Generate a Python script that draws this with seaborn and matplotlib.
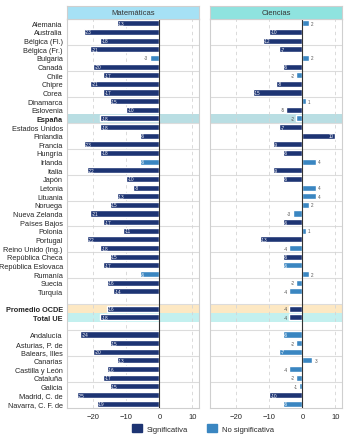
import seaborn as sns
import matplotlib.pyplot as plt
import matplotlib.patches as mpatches
import pandas as pd

# Row labels (blank rows separate the groups)
paises = ['Alemania', 'Australia', 'Bélgica (Fl.)', 'Bélgica (Fr.)', 'Bulgaria', 'Canadá',
          'Chile', 'Chipre', 'Corea', 'Dinamarca', 'Eslovenia', 'España', 'Estados Unidos',
          'Finlandia', 'Francia', 'Hungría', 'Irlanda', 'Italia', 'Japón', 'Letonia',
          'Lituania', 'Noruega', 'Nueva Zelanda', 'Países Bajos', 'Polonia', 'Portugal',
          'Reino Unido (Ing.)', 'República Checa', 'República Eslovaca', 'Rumanía',
          'Suecia', 'Turquía']
medias = ['Promedio OCDE', 'Total UE']
ccaa = ['Andalucía', 'Asturias, P. de', 'Balears, Illes', 'Canarias', 'Castilla y León',
        'Cataluña', 'Galicia', 'Madrid, C. de', 'Navarra, C. F. de']

# Differences (points)
mat = [-13, -23, -18, -21, -3, -20, -17, -21, -17, -15, -10, -18, -18, -6, -23, -18, -6,
       -22, -10, -8, -13, -15, -21, -17, -11, -22, -18, -15, -17, -6, -16, -14,
       -16, -18,
       -24, -15, -20, -13, -16, -17, -15, -25, -19]
cie = [2, -10, -12, -7, 2, -6, -2, -8, -15, 1, -5, -2, -7, 10, -9, -6, 4, -9, -6, 4, 4,
       2, -3, -6, 1, -13, -4, -6, -6, 2, -2, -4,
       -4, -4,
       -6, -2, -7, 3, -4, -2, -1, -10, -6]
# 1 = significativa, 0 = no significativa
mat_sig = [1, 1, 1, 1, 0, 1, 1, 1, 1, 1, 1, 1, 1, 1, 1, 1, 0, 1, 1, 1, 1, 1, 1, 1, 1, 1,
           1, 1, 1, 0, 1, 1,
           1, 1,
           1, 1, 1, 1, 1, 1, 1, 1, 1]
cie_sig = [0, 1, 1, 1, 0, 1, 0, 1, 1, 0, 1, 0, 1, 1, 1, 1, 0, 1, 1, 0, 0, 0, 0, 1, 0, 1,
           0, 1, 0, 0, 0, 0,
           1, 1,
           0, 0, 0, 0, 0, 0, 0, 1, 0]

nombres = paises + medias + ccaa
orden = paises + [' '] + medias + ['  '] + ccaa
negrita = ['España', 'Promedio OCDE', 'Total UE']
resaltes = {'España': '#b9dee3', 'Promedio OCDE': '#fde8c3', 'Total UE': '#c3f0ef'}

etiquetas_sig = {1: 'Significativa', 0: 'No significativa'}
colores = {'Significativa': '#1d3473', 'No significativa': '#3a86c1'}

df = pd.DataFrame({'Territorio': nombres * 2,
                   'Valor': mat + cie,
                   'Sig': [etiquetas_sig[s] for s in mat_sig + cie_sig],
                   'Materia': ['Matemáticas'] * len(nombres) + ['Ciencias'] * len(nombres)})

sns.set_style('white')
plt.rcParams['font.family'] = ['Liberation Sans', 'DejaVu Sans']

fig = plt.figure(figsize=(3.51, 4.39), dpi=100)
paneles = [('Matemáticas', '#a6e1f5', 67), ('Ciencias', '#8fe3df', 210)]

for i, (materia, col_strip, x0) in enumerate(paneles):
    ax = fig.add_axes([x0 / 351, 30 / 439, 132 / 351, 389 / 439])
    sub = df[df['Materia'] == materia]
    sns.barplot(data=sub, x='Valor', y='Territorio', hue='Sig', order=orden,
                hue_order=['Significativa', 'No significativa'], palette=colores,
                dodge=False, width=0.7, legend=False, orient='h', ax=ax,
                saturation=1, zorder=3)
    ax.set_xlim(-28, 12)
    ax.set_ylim(len(orden) - 0.5, -0.5)

    # highlighted rows
    for nombre, c in resaltes.items():
        k = orden.index(nombre)
        ax.axhspan(k - 0.5, k + 0.5, color=c, zorder=0, lw=0)
    # horizontal separators every 3 rows
    for k in range(3, len(orden), 3):
        ax.axhline(k - 0.5, color='#dcdcdc', lw=0.8, zorder=1)
    for v in [-20, -10, 10]:
        ax.axvline(v, color='#d4d4d4', lw=0.6, ls=(0, (4, 4)), zorder=1)
    ax.axvline(0, color='#333333', lw=0.8, zorder=4)

    # value labels
    for _, r in sub.iterrows():
        k = orden.index(r['Territorio'])
        v = r['Valor']
        if abs(v) >= 6:
            xt, ha, c = (v + 0.4, 'left', 'white') if v < 0 else (v - 0.4, 'right', 'white')
        else:
            xt, ha, c = (v - 0.4, 'right', '#555555') if v < 0 else (v + 0.6, 'left', '#555555')
        ax.text(xt, k, f'{v}', ha=ha, va='center', fontsize=3.3, color=c, zorder=5)

    ax.set_xticks([-20, -10, 0, 10])
    ax.tick_params(axis='x', labelsize=5.5, length=2, pad=1.5, color='#555555')
    ax.set_xlabel('')
    ax.set_ylabel('')
    if i == 0:
        ax.tick_params(axis='y', labelsize=5.3, length=2, pad=1, color='#555555')
        ax.set_yticks(range(len(orden)))
        ax.set_yticklabels(orden)
        for t in ax.get_yticklabels():
            if t.get_text() in negrita:
                t.set_fontweight('bold')
        for k, nombre in enumerate(orden):
            if nombre.strip() == '':
                ax.get_yticklines()[2 * k].set_visible(False)
    else:
        ax.set_yticks([])
    for s in ax.spines.values():
        s.set_color('#cfcfcf')
        s.set_linewidth(0.8)

    # facet strip
    st = fig.add_axes([x0 / 351, (439 - 20) / 439, 132 / 351, 13 / 439])
    st.set_facecolor(col_strip)
    st.set_xticks([])
    st.set_yticks([])
    for s in st.spines.values():
        s.set_color('#cfcfcf')
        s.set_linewidth(0.8)
    st.text(0.5, 0.5, materia, ha='center', va='center', fontsize=5.5,
            color='#333333', transform=st.transAxes)

handles = [mpatches.Patch(color=colores[k], label=k) for k in ['Significativa', 'No significativa']]
fig.legend(handles=handles, loc='center', bbox_to_anchor=(0.578, 0.022), ncol=2,
           frameon=False, fontsize=5.5, handlelength=1.3, handleheight=1.3,
           columnspacing=2.5, handletextpad=0.6)

plt.savefig('out.png', dpi=100)
